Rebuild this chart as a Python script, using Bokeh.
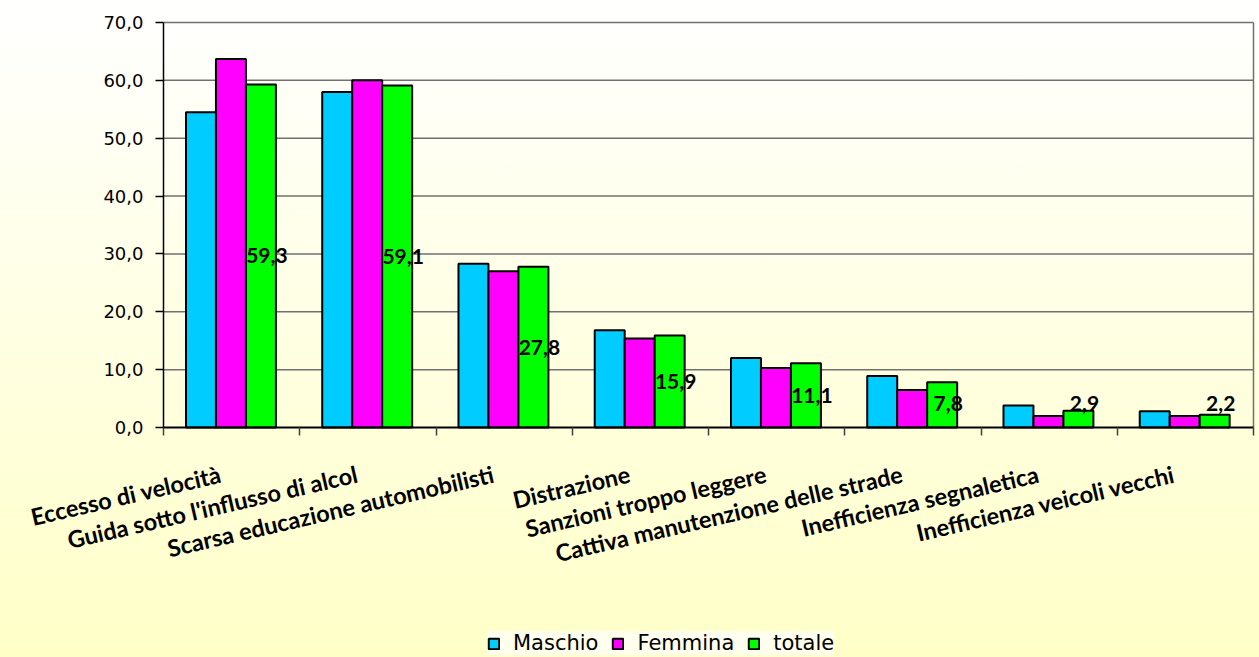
import numpy as np
from bokeh.plotting import figure
from bokeh.models import (ColumnDataSource, Range1d, FixedTicker, CustomJSTickFormatter,
                          Legend, LegendItem)
from bokeh.transform import dodge
from bokeh.core.properties import value
from bokeh.embed import file_html
from bokeh.resources import INLINE

categories = ["Eccesso di velocità", "Guida sotto l'influsso di alcol",
              "Scarsa educazione automobilisti", "Distrazione",
              "Sanzioni troppo leggere", "Cattiva manutenzione delle strade",
              "Inefficienza segnaletica", "Inefficienza veicoli vecchi"]
maschio = [54.5, 58.0, 28.3, 16.8, 12.0, 8.9, 3.8, 2.8]
femmina = [63.7, 60.0, 27.0, 15.4, 10.3, 6.5, 2.0, 2.0]
totale = [59.3, 59.1, 27.8, 15.9, 11.1, 7.8, 2.9, 2.2]
series_names = ["Maschio", "Femmina", "totale"]
series_colors = ["#00CCFF", "#FF00FF", "#00FF00"]
y_ticks = [0, 10, 20, 30, 40, 50, 60, 70]

# page geometry (pixels)
W, H = 1259, 657
PLOT_L, PLOT_R, PLOT_T, PLOT_B = 163, 1253, 22, 427

n = len(categories)
ymax = y_ticks[-1]
px_per_x = (PLOT_R - PLOT_L) / n
px_per_y = (PLOT_B - PLOT_T) / ymax
x_range = Range1d(-PLOT_L / px_per_x, n + (W - PLOT_R) / px_per_x)
y_range = Range1d(-(H - PLOT_B) / px_per_y, ymax + PLOT_T / px_per_y)

pos = np.arange(n) + 0.5
src = ColumnDataSource(dict(
    x=pos, maschio=maschio, femmina=femmina, totale=totale,
    label=[f"{v:.1f}".replace(".", ",") for v in totale],
    label_y=[max(v / 2.0, 4.2) for v in totale],
))

p = figure(width=W, height=H, x_range=x_range, y_range=y_range,
           output_backend="svg", toolbar_location=None,
           min_border_left=0, min_border_right=0, min_border_top=0, min_border_bottom=0)
p.background_fill_color = None
p.border_fill_color = None
p.styles = {"background": "linear-gradient(to bottom, #ffffff 0%, #ffffe6 45%, #ffffc8 100%)"}
p.outline_line_color = None
p.xgrid.visible = False
p.ygrid.visible = False

# horizontal gridlines and right border of the plot area
p.segment(x0=0, x1=n, y0=y_ticks[1:], y1=y_ticks[1:], line_color="#707070", line_width=1.5)
p.segment(x0=n, x1=n, y0=0, y1=ymax, line_color="#707070", line_width=1.5)

offsets = [-0.225, -0.005, 0.215]
cols = ["maschio", "femmina", "totale"]
renderers = []
for col, off, color in zip(cols, offsets, series_colors):
    r = p.vbar(x=dodge("x", off, range=p.x_range), top=col, width=0.22, source=src,
               fill_color=color, line_color="black", line_width=2)
    renderers.append(r)

p.text(x=dodge("x", offsets[2], range=p.x_range), y="label_y", text="label", source=src,
       x_offset=6, text_align="center", text_baseline="middle",
       text_font=value("Lato"), text_font_style="bold", text_font_size="21px",
       text_color="black")

# x axis (category labels rotated, end near the category centre)
xa = p.xaxis[0]
xa.fixed_location = 0
xa.bounds = (0, n)
xa.ticker = FixedTicker(ticks=list(pos - 0.08), minor_ticks=list(range(n + 1)))
xa.formatter = CustomJSTickFormatter(args=dict(labels=categories),
                                     code="return labels[Math.floor(tick)];")
xa.major_tick_in = 0
xa.major_tick_out = 0
xa.minor_tick_in = 0
xa.minor_tick_out = 8
xa.minor_tick_line_color = "#404040"
xa.minor_tick_line_width = 1.5
xa.axis_line_color = "black"
xa.axis_line_width = 2
xa.major_label_orientation = 13 * np.pi / 180
xa.major_label_standoff = 38
xa.major_label_text_font = "Lato"
xa.major_label_text_font_style = "bold"
xa.major_label_text_font_size = "23.5px"
xa.major_label_text_color = "black"

# y axis
ya = p.yaxis[0]
ya.fixed_location = 0
ya.bounds = (0, ymax)
ya.ticker = FixedTicker(ticks=y_ticks)
ya.formatter = CustomJSTickFormatter(code="return tick.toFixed(1).replace('.', ',');")
ya.major_tick_in = 0
ya.major_tick_out = 8
ya.minor_tick_line_color = None
ya.axis_line_color = "black"
ya.axis_line_width = 1.5
ya.major_tick_line_color = "black"
ya.major_tick_line_width = 1.5
ya.major_label_standoff = 12
ya.major_label_text_font = "DejaVu Sans"
ya.major_label_text_font_size = "18px"
ya.major_label_text_color = "black"

legend = Legend(items=[LegendItem(label=s, renderers=[r]) for s, r in zip(series_names, renderers)],
                location=(487, 2), orientation="horizontal",
                glyph_width=13, glyph_height=13, label_standoff=13, spacing=13,
                padding=9, margin=0, border_line_color=None,
                background_fill_color="#ffffee", background_fill_alpha=1,
                label_text_font="DejaVu Sans", label_text_font_size="21px",
                label_text_color="black")
p.add_layout(legend)

open("out.html", "w").write(file_html(p, INLINE))
